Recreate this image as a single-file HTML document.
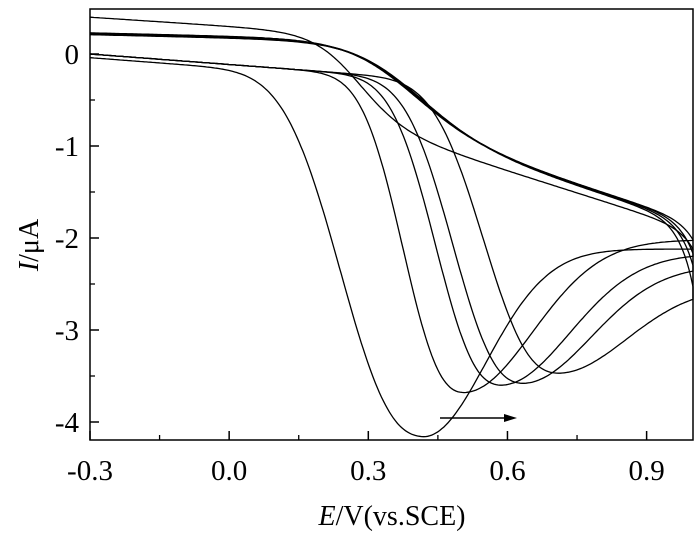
<!DOCTYPE html>
<html><head><meta charset="utf-8"><style>
html,body{margin:0;padding:0;background:#fff;}
svg{display:block;font-family:"Liberation Serif",serif;}
</style></head><body>
<svg id="chart" width="700" height="537" viewBox="0 0 700 537" xmlns="http://www.w3.org/2000/svg">
<g id="marks"></g>
<rect x="90" y="9" width="603" height="431" fill="none" stroke="#000" stroke-width="1.5"/>
<g id="axes"></g>
<g>
<line x1="440" y1="418" x2="506" y2="418" stroke="#000" stroke-width="1.5"/>
<polygon points="517,418 504,414 504,422" fill="#000"/>
</g>
<text x="392" y="525" font-size="28" text-anchor="middle"><tspan font-style="italic">E</tspan>/V(vs.SCE)</text>
<text transform="translate(38,245) rotate(-90)" font-size="28" text-anchor="middle"><tspan font-style="italic">I</tspan>/μA</text>
</svg>
<script>
// data
const xTicks = [-0.3, 0.0, 0.3, 0.6, 0.9];
const xTickLabels = ["-0.3", "0.0", "0.3", "0.6", "0.9"];
const yTicks = [0, -1, -2, -3, -4];
const yTickLabels = ["0", "-1", "-2", "-3", "-4"];
const peakE = [0.419, 0.505, 0.585, 0.632, 0.708];
const peakI = [-4.16, -3.68, -3.60, -3.58, -3.47];
const endI = [-2.12, -2.02, -2.17, -2.30, -2.53];
const returnStartI = [0.40, 0.23, 0.22, 0.22, 0.21];
const returnMidE = [0.27, 0.37, 0.375, 0.38, 0.385];
const returnI065 = [-1.35, -1.26, -1.26, -1.27, -1.28];

const X0 = 90, X1 = 693, EMIN = -0.3, EMAX = 1.0;
const YZ = 54, YS = 92;
function sx(e){ return X0 + (e - EMIN) / (EMAX - EMIN) * (X1 - X0); }
function sy(i){ return YZ - i * YS; }

const NS = "http://www.w3.org/2000/svg";
const marks = document.getElementById('marks');
const axes = document.getElementById('axes');

function mk(tag, attrs, parent){
  const el = document.createElementNS(NS, tag);
  for (const k in attrs) el.setAttribute(k, attrs[k]);
  parent.appendChild(el);
  return el;
}

for (let c = 0; c < peakE.length; c++) {
  const Ep = peakE[c], Ip = peakI[c], Ie = endI[c];
  const base = e => -0.38 * (e + 0.3) - (c === 0 ? 0.04 : 0);
  const w1 = c === 0 ? 0.22 : 0.16 + 0.012 * (c - 1);
  const p1 = 2.5;
  const w2 = c === 0 ? 0.19 : 0.21;
  let d = '';
  const N = 300;
  // forward scan
  for (let k = 0; k <= N; k++) {
    const e = EMIN + (EMAX - EMIN) * k / N;
    let I;
    if (e <= Ep) I = base(e) + (Ip - base(Ep)) * Math.exp(-Math.pow((Ep - e) / w1, p1));
    else I = Ie + (Ip - Ie) * Math.exp(-Math.pow((e - Ep) / w2, 2));
    d += (k ? 'L' : 'M') + sx(e).toFixed(1) + ',' + sy(I).toFixed(1);
  }
  // reverse scan
  const t0 = returnStartI[c], Eh = returnMidE[c];
  const s = c === 0 ? 0.05 : 0.075;
  const slope = c === 0 ? -0.33 : -0.12;
  const mid = returnI065[c];
  for (let k = N; k >= 0; k--) {
    const e = EMIN + (EMAX - EMIN) * k / N;
    const bot = mid - 1.6 * (e - 0.65) + (Ie - (mid - 0.56)) * Math.exp(-(1.0 - e) / 0.03);
    const top = t0 + slope * (e + 0.3);
    const sg = 1 / (1 + Math.exp(-(e - Eh) / s));
    const I = top + (bot - top) * sg;
    d += 'L' + sx(e).toFixed(1) + ',' + sy(I).toFixed(1);
  }
  const p = mk('path', {d: d, fill: 'none', stroke: '#000', 'stroke-width': 1.3}, marks);
  
  
}

// x ticks
for (let k = 0; k < xTicks.length; k++) {
  const x = sx(xTicks[k]);
  const t = mk('line', {x1: x, x2: x, y1: 440, y2: 431, stroke: '#000', 'stroke-width': 1.5}, axes);
  
  
  const tx = mk('text', {x: x, y: 480, 'font-size': 29, 'text-anchor': 'middle'}, axes);
  tx.textContent = xTickLabels[k];
  
  
  if (k < xTicks.length - 1) {
    const xm = sx(xTicks[k] + 0.15);
    const m = mk('line', {x1: xm, x2: xm, y1: 440, y2: 435, stroke: '#000', 'stroke-width': 1.3}, axes);
    
    
  }
}
// y ticks
for (let k = 0; k < yTicks.length; k++) {
  const y = sy(yTicks[k]);
  const t = mk('line', {x1: 90, x2: 99, y1: y, y2: y, stroke: '#000', 'stroke-width': 1.5}, axes);
  
  
  const tx = mk('text', {x: 79, y: y + 10, 'font-size': 29, 'text-anchor': 'end'}, axes);
  tx.textContent = yTickLabels[k];
  
  
  if (k < yTicks.length - 1) {
    const ym = sy(yTicks[k] - 0.5);
    const m = mk('line', {x1: 90, x2: 95, y1: ym, y2: ym, stroke: '#000', 'stroke-width': 1.3}, axes);
    
    
  }
}
</script>
</body></html>
